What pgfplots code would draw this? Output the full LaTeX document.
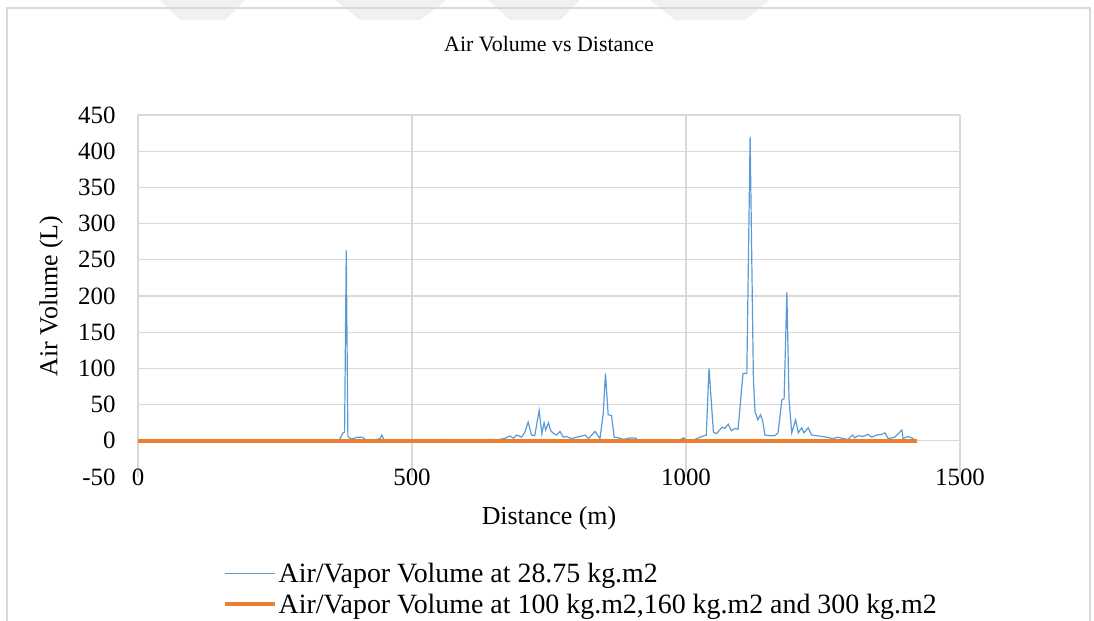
\documentclass[border=0pt]{standalone}
\usepackage{pgfplots}
\pgfplotsset{compat=1.18}
\usepackage{fontspec}
\setmainfont{Liberation Serif}
\definecolor{exblue}{HTML}{5B9BD5}
\definecolor{exorange}{HTML}{ED7D31}
\definecolor{gridgray}{HTML}{D9D9D9}
\definecolor{framegray}{HTML}{D9D9D9}
\definecolor{wmark}{HTML}{F0F0F0}

\pgfplotstableread{
d v
0 0
360 0
366 1
370 5
374 11
377 12
380 263
383 6
388 3
393 3
400 5
409 5
417 1
425 0.5
435 2
442 3
445 8
449 1
455 0
550 0
557 2
562 0
580 0
584 1.5
590 0
615 0
624 1.4
632 1
642 2
652 1.5
661 2
670 3.5
679 6.7
685 3.5
691 8
700 5
706 12
712 26
718 8
724 7
732 42
737 10
741 25
744 15
749 25
753 14
757 11
764 8
770 13
776 5
782 6
791 3
800 5
807 6
816 8
822 3
834 13
843 3
849 38
853 93
858 36
864 35
869 5
877 4
886 2
898 4
907 4
913 1
922 1
940 0
955 0
962 1
971 0
985 0
989 1
995 4
1001 1
1013 1
1026 5
1037 8
1042 100
1050 12
1056 10
1066 19
1071 17
1077 23
1083 14
1089 17
1095 16
1104 93
1111 93
1117 420
1123 84
1126 40
1131 29
1136 36
1140 27
1144 8
1153 7
1162 7
1168 11
1175 57
1179 58
1184 205
1188 57
1193 11
1200 29
1205 11
1211 18
1215 11
1223 18
1229 8
1238 7
1248 6
1257 5
1268 3
1277 5
1287 3
1296 2
1304 8
1308 4
1314 7
1323 6
1332 9
1339 5
1348 8
1357 9
1363 11
1369 3
1381 5
1394 15
1396 3
1405 6
1412 4
1418 1
}\lowmass

\pgfplotstableread{
d v
0 0
1421 0
}\highmass

\begin{document}
\begin{tikzpicture}
\path[use as bounding box] (0,0) rectangle (1094bp,-621bp);
% faint watermark at the top
\fill[wmark] (160bp,0) -- (245bp,0) -- (225bp,-20bp) -- (180bp,-20bp) -- cycle;
\fill[wmark] (335bp,0) -- (447bp,0) -- (420bp,-20bp) -- (360bp,-20bp) -- cycle;
\fill[wmark] (488bp,0) -- (580bp,0) -- (560bp,-20bp) -- (510bp,-20bp) -- cycle;
\fill[wmark] (650bp,0) -- (770bp,0) -- (745bp,-20bp) -- (675bp,-20bp) -- cycle;
% chart frame
\draw[framegray, line width=1.2bp] (7bp,-630bp) -- (7bp,-8bp) -- (1090bp,-8bp) -- (1090bp,-630bp);
\begin{axis}[
  at={(138bp,-477bp)}, anchor=south west,
  scale only axis,
  width=822bp, height=362bp,
  xmin=0, xmax=1500, ymin=-50, ymax=450,
  xtick={0,500,1000,1500},
  ytick={0,50,...,450},
  extra y ticks={-50},
  extra y tick style={grid=none},
  grid=major,
  major grid style={gridgray, line width=1.3bp},
  axis line style={draw=none},
  major tick length=0pt,
  tick label style={font=\fontsize{25}{29}\selectfont},
  /pgf/number format/assume math mode=true,
  /pgf/number format/1000 sep={},
  xticklabel style={anchor=center},
  yticklabel style={xshift=-19bp},
  title={Air Volume vs Distance},
  title style={at={(axis description cs:0.5,1.1796)}, anchor=center, font=\fontsize{22}{26}\selectfont},
  xlabel={Distance (m)},
  xlabel style={at={(axis description cs:0.5,-0.1133)}, anchor=center, font=\fontsize{26}{30}\selectfont},
  ylabel={Air Volume (L)},
  ylabel style={at={(axis description cs:-0.1058,0.5)}, anchor=center, font=\fontsize{26}{30}\selectfont},
  legend style={draw=none, fill=none, inner sep=0pt, row sep=7bp,
    at={(axis description cs:0.1034,-0.233)}, anchor=north west,
    nodes={inner sep=1.5bp}, font=\fontsize{28}{32}\selectfont},
  legend cell align=left,
  legend image code/.code={\draw[#1] (0bp,0bp) -- (50bp,0bp);},
]
\addplot[exblue, line width=1.2bp] table[x=d, y=v] {\lowmass};
\addlegendentry{Air/Vapor Volume at 28.75 kg.m2}
\addplot[exorange, line width=4bp] table[x=d, y=v] {\highmass};
\addlegendentry{Air/Vapor Volume at 100 kg.m2,160 kg.m2 and 300 kg.m2}
\end{axis}
\end{tikzpicture}
\end{document}
